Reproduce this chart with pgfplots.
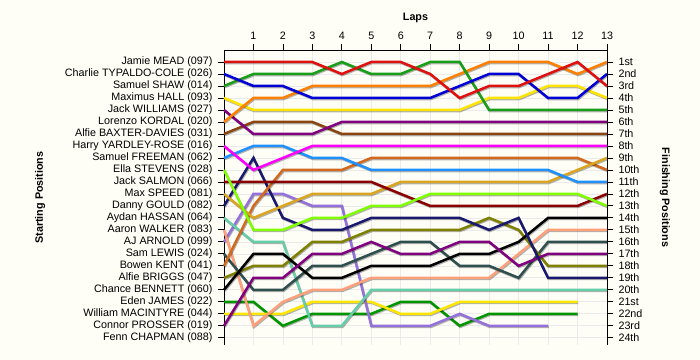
\documentclass[border=0pt]{standalone}
\usepackage{pgfplots}
\pgfplotsset{compat=1.18}
\usepackage{fontspec}
\setmainfont{Liberation Sans}
\definecolor{bg}{RGB}{254,254,246}
\definecolor{cRed}{RGB}{224,16,16}
\definecolor{cBlue}{RGB}{0,0,215}
\definecolor{cShaw}{RGB}{24,158,24}
\definecolor{cYellow}{RGB}{255,228,0}
\definecolor{cPurple}{RGB}{128,0,128}
\definecolor{cOrange}{RGB}{255,128,0}
\definecolor{cBrown}{RGB}{139,69,19}
\definecolor{cMagenta}{RGB}{255,0,255}
\definecolor{cLBlue}{RGB}{30,144,255}
\definecolor{cLime}{RGB}{127,255,0}
\definecolor{cDRed}{RGB}{139,0,0}
\definecolor{cGold}{RGB}{218,165,32}
\definecolor{cNavy}{RGB}{25,25,112}
\definecolor{cAqua}{RGB}{102,205,170}
\definecolor{cSalmon}{RGB}{255,160,122}
\definecolor{cLav}{RGB}{147,112,219}
\definecolor{cSlate}{RGB}{47,79,79}
\definecolor{cSienna}{RGB}{210,105,30}
\definecolor{cOlive}{RGB}{128,128,0}
\definecolor{cEden}{RGB}{0,150,0}
\definecolor{cWill}{RGB}{255,230,0}
\definecolor{cConnor}{RGB}{128,0,128}
\begin{document}
\begin{tikzpicture}
\fill[bg] (-224bp,-15bp) rectangle (476bp,345bp);
\path[use as bounding box] (-224bp,-15bp) rectangle (476bp,345bp);
\begin{axis}[
  at={(0,0)}, anchor=south west, scale only axis,
  width=383bp, height=295bp,
  xmin=0, xmax=13, ymin=0, ymax=24.6, y dir=reverse,
  axis line style={draw=none},
  xtick={1,...,13}, xtick pos=right, xticklabel pos=right,
  ytick={1,...,24}, ytick pos=left, yticklabel pos=left,
  yticklabels={Jamie MEAD (097),Charlie TYPALDO-COLE (026),Samuel SHAW (014),Maximus HALL (093),Jack WILLIAMS (027),Lorenzo KORDAL (020),Alfie BAXTER-DAVIES (031),Harry YARDLEY-ROSE (016),Samuel FREEMAN (062),Ella STEVENS (028),Jack SALMON (066),Max SPEED (081),Danny GOULD (082),Aydan HASSAN (064),Aaron WALKER (083),AJ ARNOLD (099),Sam LEWIS (024),Bowen KENT (041),Alfie BRIGGS (047),Chance BENNETT (060),Eden JAMES (022),William MACINTYRE (044),Connor PROSSER (019),Fenn CHAPMAN (088)},
  tick label style={font=\fontsize{10.8}{12}\selectfont},
  yticklabel style={xshift=-2bp},
  xticklabel style={yshift=1bp},
  /pgf/number format/assume math mode=true,
  tick style={black, line width=0.8bp},
  major tick length=6bp, tick align=outside,
  grid=major, grid style={gray!16, line width=0.7bp},
  clip=false,
  every axis plot/.append style={line width=2.5bp, mark=none,
    preaction={draw=black, opacity=0.3, transform canvas={shift={(0.7bp,-1.1bp)}}}},
]
\draw[black, line width=0.9bp] (axis description cs:0,0) -- (axis description cs:0,1) -- (axis description cs:1,1) -- (axis description cs:1,0);
\node[font=\fontsize{10.8}{12}\selectfont\bfseries] at (axis description cs:0.5,1.108) {Laps};
\node[font=\fontsize{10.8}{12}\selectfont\bfseries, rotate=90] at (axis description cs:-0.48,0.5) {Starting Positions};
\node[font=\fontsize{10.8}{12}\selectfont\bfseries, rotate=-90] at (axis description cs:1.151,0.5) {Finishing Positions};
% Eden JAMES (022)
\addplot[cEden] coordinates {(0,21) (1,21) (2,23) (3,22) (4,22) (5,22) (6,21) (7,21) (8,23) (9,22) (10,22) (11,22) (12,22)};
% William MACINTYRE (044)
\addplot[cWill] coordinates {(0,22) (1,22) (2,22) (3,21) (4,21) (5,21) (6,22) (7,22) (8,21) (9,21) (10,21) (11,21) (12,21)};
% AJ ARNOLD (099)
\addplot[cLav] coordinates {(0,16) (1,12) (2,12) (3,13) (4,13) (5,23) (6,23) (7,23) (8,22) (9,23) (10,23) (11,23)};
% Aydan HASSAN (064)
\addplot[cAqua] coordinates {(0,14) (1,16) (2,16) (3,23) (4,23) (5,20) (6,20) (7,20) (8,20) (9,20) (10,20) (11,20) (12,20) (13,20)};
% Aaron WALKER (083)
\addplot[cSalmon] coordinates {(0,15) (1,23) (2,21) (3,20) (4,20) (5,19) (6,19) (7,19) (8,19) (9,19) (10,17) (11,15) (12,15) (13,15)};
% Sam LEWIS (024)
\addplot[cSlate] coordinates {(0,17) (1,20) (2,20) (3,18) (4,18) (5,17) (6,16) (7,16) (8,18) (9,18) (10,19) (11,16) (12,16) (13,16)};
% Alfie BRIGGS (047)
\addplot[cOlive] coordinates {(0,19) (1,18) (2,18) (3,16) (4,16) (5,15) (6,15) (7,15) (8,15) (9,14) (10,15) (11,18) (12,18) (13,18)};
% Chance BENNETT (060)
\addplot[black] coordinates {(0,20) (1,17) (2,17) (3,19) (4,19) (5,18) (6,18) (7,18) (8,17) (9,17) (10,16) (11,14) (12,14) (13,14)};
% Connor PROSSER (019)
\addplot[cConnor] coordinates {(0,23) (1,19) (2,19) (3,17) (4,17) (5,16) (6,17) (7,17) (8,16) (9,16) (10,18) (11,17) (12,17) (13,17)};
% Danny GOULD (082)
\addplot[cNavy] coordinates {(0,13) (1,9) (2,14) (3,15) (4,15) (5,14) (6,14) (7,14) (8,14) (9,15) (10,14) (11,19) (12,19) (13,19)};
% Bowen KENT (041)
\addplot[cSienna] coordinates {(0,18) (1,13) (2,10) (3,10) (4,10) (5,9) (6,9) (7,9) (8,9) (9,9) (10,9) (11,9) (12,9) (13,10)};
% Max SPEED (081)
\addplot[cGold] coordinates {(0,12) (1,14) (2,13) (3,12) (4,12) (5,12) (6,11) (7,11) (8,11) (9,11) (10,11) (11,11) (12,10) (13,9)};
% Jack SALMON (066)
\addplot[cDRed] coordinates {(0,11) (1,11) (2,11) (3,11) (4,11) (5,11) (6,12) (7,13) (8,13) (9,13) (10,13) (11,13) (12,13) (13,12)};
% Ella STEVENS (028)
\addplot[cLime] coordinates {(0,10) (1,15) (2,15) (3,14) (4,14) (5,13) (6,13) (7,12) (8,12) (9,12) (10,12) (11,12) (12,12) (13,13)};
% Samuel FREEMAN (062)
\addplot[cLBlue] coordinates {(0,9) (1,8) (2,8) (3,9) (4,9) (5,10) (6,10) (7,10) (8,10) (9,10) (10,10) (11,10) (12,11) (13,11)};
% Harry YARDLEY-ROSE (016)
\addplot[cMagenta] coordinates {(0,8) (1,10) (2,9) (3,8) (4,8) (5,8) (6,8) (7,8) (8,8) (9,8) (10,8) (11,8) (12,8) (13,8)};
% Alfie BAXTER-DAVIES (031)
\addplot[cBrown] coordinates {(0,7) (1,6) (2,6) (3,6) (4,7) (5,7) (6,7) (7,7) (8,7) (9,7) (10,7) (11,7) (12,7) (13,7)};
% Jack WILLIAMS (027)
\addplot[cPurple] coordinates {(0,5) (1,7) (2,7) (3,7) (4,6) (5,6) (6,6) (7,6) (8,6) (9,6) (10,6) (11,6) (12,6) (13,6)};
% Maximus HALL (093)
\addplot[cYellow] coordinates {(0,4) (1,5) (2,5) (3,5) (4,5) (5,5) (6,5) (7,5) (8,5) (9,4) (10,4) (11,3) (12,3) (13,4)};
% Lorenzo KORDAL (020)
\addplot[cOrange] coordinates {(0,6) (1,4) (2,4) (3,3) (4,3) (5,3) (6,3) (7,3) (8,2) (9,1) (10,1) (11,1) (12,2) (13,1)};
% Samuel SHAW (014)
\addplot[cShaw] coordinates {(0,3) (1,2) (2,2) (3,2) (4,1) (5,2) (6,2) (7,1) (8,1) (9,5) (10,5) (11,5) (12,5) (13,5)};
% Charlie TYPALDO-COLE (026)
\addplot[cBlue] coordinates {(0,2) (1,3) (2,3) (3,4) (4,4) (5,4) (6,4) (7,4) (8,3) (9,2) (10,2) (11,4) (12,4) (13,2)};
% Jamie MEAD (097)
\addplot[cRed] coordinates {(0,1) (1,1) (2,1) (3,1) (4,2) (5,1) (6,1) (7,2) (8,4) (9,3) (10,3) (11,2) (12,1) (13,3)};
\end{axis}
\begin{axis}[
  at={(0,0)}, anchor=south west, scale only axis,
  width=383bp, height=295bp,
  xmin=0, xmax=13, ymin=0, ymax=24.6, y dir=reverse,
  axis line style={draw=none},
  xtick=\empty, xticklabels={},
  ytick={1,...,24}, ytick pos=right, yticklabel pos=right,
  yticklabels={1st,2nd,3rd,4th,5th,6th,7th,8th,9th,10th,11th,12th,13th,14th,15th,16th,17th,18th,19th,20th,21st,22nd,23rd,24th},
  tick label style={font=\fontsize{10.8}{12}\selectfont},
  yticklabel style={xshift=2bp},
  tick style={black, line width=0.8bp},
  major tick length=6bp, tick align=outside,
]
\end{axis}
\end{tikzpicture}
\end{document}
